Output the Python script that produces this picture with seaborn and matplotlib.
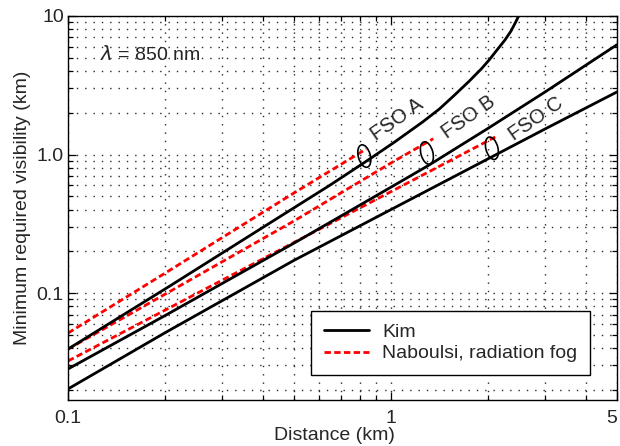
import matplotlib
matplotlib.use("Agg")
import matplotlib.pyplot as plt
import matplotlib.transforms as mtransforms
from matplotlib.patches import Ellipse
from matplotlib.ticker import FixedLocator, FixedFormatter, NullFormatter
import seaborn as sns

# Link distance (km) and minimum required visibility (km), Kim model
kim_a_dist = [0.1, 0.207, 0.451, 0.644, 0.837, 1.02, 1.25, 1.41, 1.56, 1.74,
              1.90, 2.01, 2.12, 2.25, 2.35, 2.43, 2.48]
kim_a_vis = [0.0394, 0.1127, 0.354, 0.597, 0.893, 1.221, 1.714, 2.131, 2.645, 3.366,
             4.143, 4.812, 5.636, 6.709, 7.795, 9.052, 10.0]
kim_b_dist = [0.1, 0.2, 0.5, 1.0, 1.3, 2.0, 3.0, 5.0]
kim_b_vis = [0.0283, 0.0689, 0.229, 0.582, 0.830, 1.551, 2.836, 6.205]
kim_c_dist = [0.1, 0.2, 0.5, 1.0, 2.0, 3.0, 5.0]
kim_c_vis = [0.0203, 0.0518, 0.172, 0.401, 0.934, 1.533, 2.83]

# Naboulsi model, radiation fog
nab_a_dist = [0.1, 0.2, 0.5, 0.837]
nab_a_vis = [0.0514, 0.1395, 0.527, 1.096]
nab_b_dist = [0.1, 0.2, 0.5, 1.0, 1.35]
nab_b_vis = [0.0394, 0.0983, 0.331, 0.870, 1.30]
nab_c_dist = [0.1, 0.2, 0.5, 2.1]
nab_c_vis = [0.0323, 0.0754, 0.2315, 1.338]

systems = ["FSO A", "FSO B", "FSO C"]
label_pos = [(1.04, 1.80), (1.74, 1.87), (2.80, 1.80)]
marker_pos = [(0.826, 0.975), (1.29, 1.025), (2.05, 1.11)]

x_ticks = [0.1, 1, 5]
x_ticklabels = ["0.1", "1", "5"]
y_ticks = [0.1, 1, 10]
y_ticklabels = ["0.1", "1.0", "10"]

sns.set_style("ticks")
plt.rcParams["font.family"] = ["Liberation Sans", "DejaVu Sans"]
plt.rcParams["font.size"] = 14

fig = plt.figure(figsize=(6.2, 4.46), dpi=100)
ax = fig.add_axes([68 / 620, 1 - 400 / 446, 549 / 620, 384 / 446])
ax.set_xscale("log")
ax.set_yscale("log")
ax.set_xlim(0.1, 5)
ax.set_ylim(0.0169, 10)

kim = [(kim_a_dist, kim_a_vis), (kim_b_dist, kim_b_vis), (kim_c_dist, kim_c_vis)]
nab = [(nab_a_dist, nab_a_vis), (nab_b_dist, nab_b_vis), (nab_c_dist, nab_c_vis)]

for i, (d, v) in enumerate(nab):
    sns.lineplot(x=d, y=v, ax=ax, color="#ff0000", lw=2.0, sort=False,
                 estimator=None, linestyle=(0, (2.3, 1.2)),
                 label="Naboulsi, radiation fog" if i == 0 else "_nolegend_")
for i, (d, v) in enumerate(kim):
    sns.lineplot(x=d, y=v, ax=ax, color="black", lw=2.0, sort=False,
                 estimator=None, label="Kim" if i == 0 else "_nolegend_")

# Grid: dotted lines at every major and minor decade position
ax.grid(which="both", color="#2a2a2a", linestyle=(0, (1, 5)), linewidth=1.0)
ax.set_axisbelow(True)

ax.xaxis.set_major_locator(FixedLocator(x_ticks))
ax.xaxis.set_major_formatter(FixedFormatter(x_ticklabels))
ax.xaxis.set_minor_locator(FixedLocator([0.2, 0.3, 0.4, 0.5, 0.6, 0.7, 0.8, 0.9, 2, 3, 4]))
ax.xaxis.set_minor_formatter(NullFormatter())
ax.yaxis.set_major_locator(FixedLocator(y_ticks))
ax.yaxis.set_major_formatter(FixedFormatter(y_ticklabels))
ymin = [k * 0.01 for k in range(2, 10)] + [k * 0.1 for k in range(2, 10)] + list(range(2, 10))
ax.yaxis.set_minor_locator(FixedLocator(ymin))
ax.yaxis.set_minor_formatter(NullFormatter())

ax.tick_params(which="both", direction="in", top=True, right=True,
               color="black", width=0.9, labelsize=14)
ax.tick_params(which="major", length=6)
ax.tick_params(which="minor", length=3.5)
ax.tick_params(axis="x", which="major", pad=7)
ax.tick_params(axis="y", which="major", pad=3)
ax.xaxis.get_major_ticks()[2].label1.set_horizontalalignment("right")
for s in ax.spines.values():
    s.set_color("black")
    s.set_linewidth(1.0)

ax.set_xlabel("Distance (km)", fontsize=14)
ax.xaxis.set_label_coords(0.4845, -0.07)
ax.set_ylabel("Minimum required visibility (km)", fontsize=14, labelpad=4)

ax.text(0.18, 5.3, r"$\lambda$ = 850 nm", fontsize=14, ha="center", va="center")

for name, (lx, ly) in zip(systems, label_pos):
    ax.text(lx, ly, name, fontsize=14.5, rotation=35, ha="center", va="center",
            rotation_mode="anchor")

for (cx, cy) in marker_pos:
    trans = fig.dpi_scale_trans + mtransforms.ScaledTranslation(cx, cy, ax.transData)
    ax.add_patch(Ellipse((0, 0), 0.12, 0.23, angle=15, transform=trans,
                         fill=False, ec="black", lw=1.2, zorder=5))

handles, labels = ax.get_legend_handles_labels()
order = [labels.index("Kim"), labels.index("Naboulsi, radiation fog")]
leg = ax.legend([handles[k] for k in order], [labels[k] for k in order],
                loc="lower right", bbox_to_anchor=(0.951, 0.065), fontsize=14,
                frameon=True, fancybox=False, framealpha=1, edgecolor="black",
                handlelength=2.3, handletextpad=0.7, labelspacing=0.2,
                borderpad=0.65, borderaxespad=0)
leg.get_frame().set_linewidth(1.0)

fig.savefig("out.png", dpi=100)
